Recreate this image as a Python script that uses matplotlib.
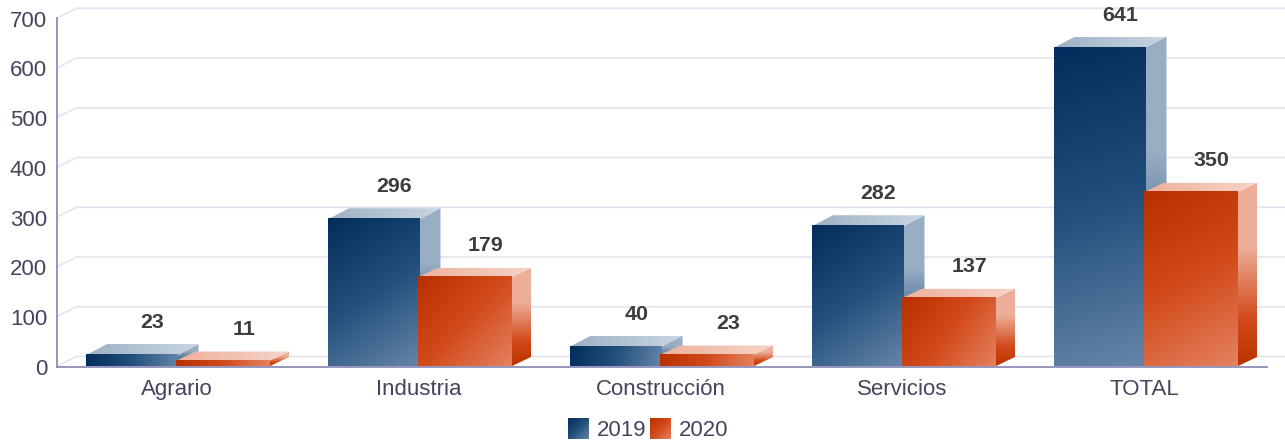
import numpy as np
import matplotlib
matplotlib.use("Agg")
import matplotlib.pyplot as plt
from matplotlib.colors import LinearSegmentedColormap
from matplotlib.patches import Polygon

categories = ["Agrario", "Industria", "Construcción", "Servicios", "TOTAL"]
series_names = ["2019", "2020"]
values_2019 = [23, 296, 40, 282, 641]
values_2020 = [11, 179, 23, 137, 350]
y_ticks = [0, 100, 200, 300, 400, 500, 600, 700]

W, H = 1285, 441
plt.rcParams["font.family"] = ["Liberation Sans", "DejaVu Sans"]
fig = plt.figure(figsize=(W / 100, H / 100), dpi=100)
L, R, B, T = 56.5, 1266.5, 366.5, 18.3
ax = fig.add_axes([L / W, 1 - B / H, (R - L) / W, (B - T) / H])
ax.set_xlim(0, 5)
ax.set_ylim(0, 700)
ax.axis("off")
px = 5 / (R - L)
py = 700 / (B - T)

TXT = "#44445c"
GRID = "#e4e3f0"
AXC = "#8e8eb8"
GD, GH = 20, 10

for v in y_ticks:
    ax.plot([0, GD * px, (1285 - L) * px], [v, v + GH * py, v + GH * py],
            color=GRID, lw=1.2, clip_on=False, zorder=1, solid_capstyle="butt")
    ax.text(-9.5 * px, v - 2.8 * py, str(v), ha="right", va="center",
            color=TXT, fontsize=16, clip_on=False)
ax.plot([0, 0], [0, 700], color=AXC, lw=1.3, clip_on=False, zorder=2)
ax.plot([0, 5], [0, 0], color=AXC, lw=1.3, clip_on=False, zorder=2)


def grad(x0, x1, y0, y1, stops, mode, z, clip=None):
    n = 96
    w = abs(x1 - x0) / px
    h = abs(y1 - y0) / py
    u = np.linspace(0, 1, n)
    uu, vv = np.meshgrid(u, u)
    if mode == "diag":
        t = (uu * w * w + vv * h * h) / (w * w + h * h)
    elif mode == "h":
        t = uu
    else:
        t = vv
    cm = LinearSegmentedColormap.from_list("g", stops)
    im = ax.imshow(cm(t), extent=(x0, x1, y0, y1), origin="upper", aspect="auto",
                   zorder=z, interpolation="bilinear")
    if clip is not None:
        im.set_clip_path(Polygon(clip, closed=True, transform=ax.transData, fc="none", ec="none"))
    else:
        im.set_clip_on(False)
    return im


styles = [
    dict(front=[(0, "#032d5c"), (0.5, "#234f7c"), (1, "#6485a8")],
         top=[(0, "#9db2c6"), (1, "#c9d5e0")],
         side=[(0, "#98aec4"), (0.35, "#98aec4"), (0.75, "#3a628c"), (1, "#0a3565")],
         dx=21, dy=11, left=-91.5, width=91.5, lx=20.5, ly=21.5),
    dict(front=[(0, "#b83000"), (0.5, "#d24a1a"), (1, "#e4815f")],
         top=[(0, "#eeb19c"), (1, "#f6d3c7")],
         side=[(0, "#ecae99"), (0.35, "#ecae99"), (0.75, "#d24a1a"), (1, "#bc3300")],
         dx=20, dy=9.5, left=-2, width=93.5, lx=21.5, ly=22),
]
all_vals = [values_2019, values_2020]
for s, (st, vals) in enumerate(zip(styles, all_vals)):
    z = 3 + s
    for i, v in enumerate(vals):
        xc = i + 0.5
        x0 = xc + st["left"] * px
        x1 = x0 + st["width"] * px
        dx, dy = st["dx"] * px, st["dy"] * py
        grad(x1, x1 + dx, 0, v + dy, st["side"], "v", z,
             clip=[(x1, 0), (x1 + dx, dy), (x1 + dx, v + dy), (x1, v)])
        grad(x0, x1 + dx, v, v + dy, st["top"], "h", z,
             clip=[(x0, v), (x1, v), (x1 + dx, v + dy), (x0 + dx, v + dy)])
        grad(x0, x1, 0, v, st["front"], "diag", z + 0.1)
        ax.text((x0 + x1) / 2 + st["lx"] * px, v + dy + st["ly"] * py, str(v), ha="center", va="center",
                fontsize=15.4, fontweight="bold", color="#3d3d3d", clip_on=False, zorder=10)

ax.set_xlim(0, 5)
ax.set_ylim(0, 700)

for i, c in enumerate(categories):
    ax.text(i + 0.5 - 1 * px, -23 * py, c, ha="center", va="center", color=TXT, fontsize=16, clip_on=False)

# legend
legend_x = [568, 650]
for name, st, lx in zip(series_names, styles, legend_x):
    grad((lx - L) * px, (lx + 21 - L) * px, (B - 439) * py, (B - 418) * py, st["front"], "diag", 5)
    ax.text((lx + 28.5 - L) * px, (B - 431) * py, name, ha="left", va="center", color=TXT,
            fontsize=16, clip_on=False)
ax.set_xlim(0, 5)
ax.set_ylim(0, 700)

fig.savefig("out.png", dpi=100, facecolor="white")
